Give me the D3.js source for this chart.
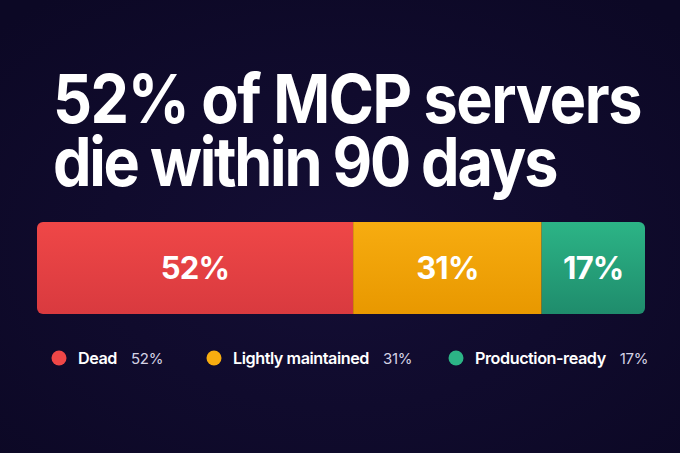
<!DOCTYPE html>
<html>
<head>
<meta charset="utf-8">
<script src="https://cdn.jsdelivr.net/npm/d3@7"></script>
<style>
  html, body { margin: 0; padding: 0; background: #0e0a2a; }
  svg { display: block; }
</style>
</head>
<body>
<svg id="chart" width="680" height="453"></svg>
<script>
// ---- data ----
const titleLines = ["52% of MCP servers", "die within 90 days"];
const categories = ["Dead", "Lightly maintained", "Production-ready"];
const values = [52, 31, 17];
const colorsTop = ["#ef4747", "#f7ac10", "#2cb486"];
const colorsBottom = ["#d93a3f", "#e89800", "#1f8c6c"];

// ---- layout ----
const W = 680, H = 453;
const svg = d3.select("#chart");
const font = "Inter, 'Noto Sans', 'DejaVu Sans', sans-serif";

const defs = svg.append("defs");
const bg = defs.append("radialGradient").attr("id", "bg").attr("cx", "50%").attr("cy", "55%").attr("r", "70%");
bg.append("stop").attr("offset", "0%").attr("stop-color", "#140e35");
bg.append("stop").attr("offset", "100%").attr("stop-color", "#0c0825");
svg.append("rect").attr("width", W).attr("height", H).attr("fill", "url(#bg)");

categories.forEach((c, i) => {
  const g = defs.append("linearGradient").attr("id", "g" + i).attr("x1", 0).attr("x2", 0).attr("y1", 0).attr("y2", 1);
  g.append("stop").attr("offset", "0%").attr("stop-color", colorsTop[i]);
  g.append("stop").attr("offset", "100%").attr("stop-color", colorsBottom[i]);
});

// title: one text element, two tspans; fitted horizontally to the reference width
const titleLeft = 53, titleRights = [641, 557];
const title = svg.append("text")
  .attr("fill", "#ffffff")
  .attr("font-family", font)
  .attr("font-weight", 700)
  .attr("font-size", 67)
  .attr("letter-spacing", -1.6);
const natural = [];
titleLines.forEach((line, i) => {
  const t = title.append("tspan").attr("x", titleLeft).attr("y", 123 + i * 63).text(line);
  natural.push(t.node().getComputedTextLength());
});
const sx = (titleRights[0] - titleLeft) / natural[0];
title.selectAll("tspan").each(function(d, i) {
  const t = d3.select(this);
  const target = (titleRights[i] - titleLeft) / sx;
  const extra = (target - natural[i]) / (titleLines[i].length - 1);
  t.attr("x", titleLeft / sx).attr("letter-spacing", -1.6 + extra);
});
title.attr("transform", `scale(${sx},1)`);

// stacked bar
const total = d3.sum(values);
const x = d3.scaleLinear().domain([0, total]).range([37, 645]);
const starts = d3.cumsum([0, ...values]).slice(0, values.length);
const barY = 222, barH = 92, rr = 6;

const clip = defs.append("clipPath").attr("id", "barclip");
clip.append("rect").attr("x", x(0)).attr("y", barY).attr("width", x(total) - x(0)).attr("height", barH).attr("rx", rr);

const bars = svg.append("g").attr("clip-path", "url(#barclip)");
bars.selectAll("rect").data(values).join("rect")
  .attr("x", (d, i) => x(starts[i]))
  .attr("y", barY)
  .attr("width", (d, i) => x(starts[i] + d) - x(starts[i]))
  .attr("height", barH)
  .attr("fill", (d, i) => `url(#g${i})`);

svg.append("g").selectAll("text").data(values).join("text")
  .attr("x", (d, i) => (x(starts[i]) + x(starts[i] + d)) / 2)
  .attr("y", barY + barH / 2 + 11)
  .attr("text-anchor", "middle")
  .attr("fill", "#ffffff")
  .attr("font-family", font)
  .attr("font-weight", 700)
  .attr("font-size", 31)
  .attr("letter-spacing", -0.8)
  .text(d => d + "%");

// legend
const legendX = [59, 214, 456];
const legY = 358;
const leg = svg.append("g").selectAll("g").data(categories).join("g")
  .attr("transform", (d, i) => `translate(${legendX[i]},${legY})`);
leg.append("circle").attr("r", 7.5).attr("fill", (d, i) => colorsTop[i]);
leg.append("text")
  .attr("x", 19).attr("y", 6)
  .attr("fill", "#ffffff")
  .attr("font-family", font)
  .attr("font-weight", 600)
  .attr("font-size", 16.2)
  .attr("letter-spacing", -0.45)
  .text(d => d);
leg.each(function(d, i) {
  const g = d3.select(this);
  const w = g.select("text").node().getComputedTextLength();
  g.append("text")
    .attr("x", 19 + w + 14).attr("y", 6)
    .attr("fill", "#d4d2e4")
    .attr("font-family", font)
    .attr("font-weight", 400)
    .attr("font-size", 15)
    .attr("letter-spacing", -0.3)
    .text(values[i] + "%");
});
</script>
</body>
</html>
